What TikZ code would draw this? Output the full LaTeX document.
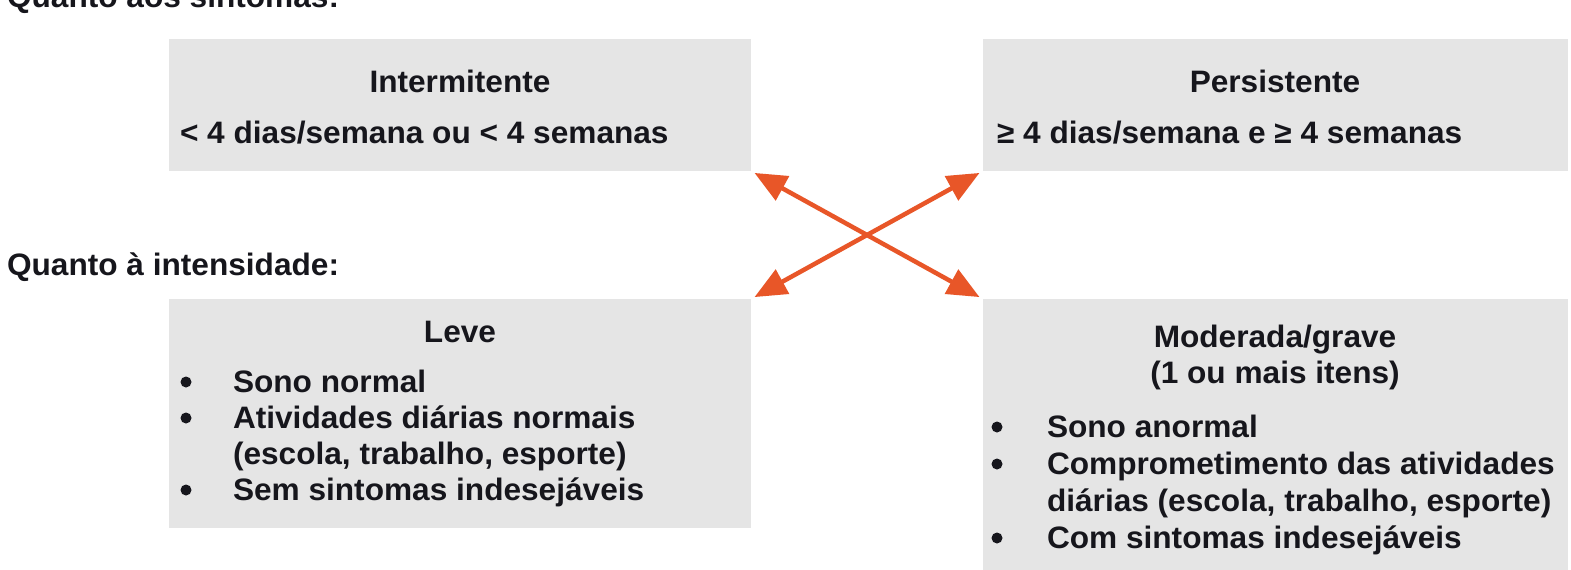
\documentclass[tikz,border=0pt]{standalone}
\usepackage{fontspec}
\setmainfont{Liberation Sans}[FakeStretch=1.02]
\usetikzlibrary{arrows.meta}
\definecolor{boxgray}{RGB}{229,229,229}
\definecolor{arrowc}{RGB}{232,86,40}
\definecolor{txt}{RGB}{22,22,28}
\begin{document}
\begin{tikzpicture}[x=1pt,y=1pt,
  panel/.style={fill=boxgray,draw=none,inner sep=0pt,outer sep=0pt,anchor=north west},
  lbl/.style={inner sep=0pt,outer sep=0pt,text=txt,font=\bfseries\fontsize{31}{36}\selectfont},
  lw/.style={lbl,anchor=base west},
  lc/.style={lbl,anchor=base},
  dot/.style={circle,fill=txt,inner sep=0pt,outer sep=0pt,minimum size=11pt},
  link/.style={draw=arrowc,line width=4.5pt,shorten <=4pt,shorten >=4pt,
    {Triangle[length=32pt,width=27pt]}-{Triangle[length=32pt,width=27pt]}}
]
\fill[white] (0,0) rectangle (1571,-570);
\useasboundingbox (0,0) rectangle (1571,-570);

% headings
\node[lw] (h1) at (7,-8) {Quanto aos sintomas:};
\node[lw] (h2) at (7,-275) {Quanto à intensidade:};

% panels
\node[panel,minimum width=582pt,minimum height=132pt] (tl) at (169,-39) {};
\node[panel,minimum width=585pt,minimum height=132pt] (tr) at (983,-39) {};
\node[panel,minimum width=582pt,minimum height=229pt] (bl) at (169,-299) {};
\node[panel,minimum width=585pt,minimum height=275pt] (br) at (983,-299) {};

% top-left
\node[lc] (t1) at (460,-92) {Intermitente};
\node[lw] (t2) at (180,-143) {< 4 dias/semana ou < 4 semanas};

% top-right
\node[lc] (p1) at (1275,-92) {Persistente};
\node[lw] (p2) at (997,-143) {≥ 4 dias/semana e ≥ 4 semanas};

% bottom-left
\node[lc] (l0) at (460,-342) {Leve};
\node[dot] (lb1) at (186,-382) {};
\node[lw] (l1) at (233,-392) {Sono normal};
\node[dot] (lb2) at (186,-418) {};
\node[lw] (l2) at (233,-428) {Atividades diárias normais};
\node[lw] (l3) at (233,-464) {(escola, trabalho, esporte)};
\node[dot] (lb3) at (186,-490) {};
\node[lw] (l4) at (233,-500) {Sem sintomas indesejáveis};

% bottom-right
\node[lc] (m0) at (1275,-347) {Moderada/grave};
\node[lc] (m00) at (1275,-383) {(1 ou mais itens)};
\node[dot] (mb1) at (997,-427) {};
\node[lw] (m1) at (1047,-437) {Sono anormal};
\node[dot] (mb2) at (997,-464) {};
\node[lw] (m2) at (1047,-474) {Comprometimento das atividades};
\node[lw] (m3) at (1047,-511) {diárias (escola, trabalho, esporte)};
\node[dot] (mb3) at (997,-538) {};
\node[lw] (m4) at (1047,-548) {Com sintomas indesejáveis};

% arrows
\draw[link] (tl.south east) -- (br.north west);
\draw[link] (tr.south west) -- (bl.north east);
\end{tikzpicture}
\end{document}
